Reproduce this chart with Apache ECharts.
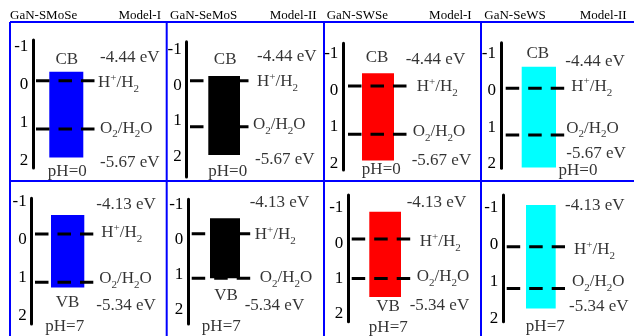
<!DOCTYPE html>
<html><head><meta charset="utf-8">
<script src="https://cdn.jsdelivr.net/npm/echarts@6/dist/echarts.min.js"></script>
<style>html,body{margin:0;padding:0;background:#fff}#c{width:634px;height:336px}</style>
</head><body><div id="c"></div>
<script>
// ---------------- data ----------------
const materials = ['GaN-SMoSe', 'GaN-SeMoS', 'GaN-SWSe', 'GaN-SeWS'];
const models = ['Model-I', 'Model-II', 'Model-I', 'Model-II'];
const pHValues = [0, 7];
const edgeNames = ['CB', 'VB'];
const hEnergyLabels = ['-4.44 eV', '-4.13 eV'];
const oEnergyLabels = ['-5.67 eV', '-5.34 eV'];
const yTickValues = [-1, 0, 1, 2];
// band extents and redox levels (axis units)
const bandTopPH0 = [-0.34, -0.26, -0.46, -0.65];
const bandBottomPH0 = [1.93, 1.96, 1.93, 2.11];
const hLevelPH0 = [-0.10, -0.12, -0.11, -0.06];
const oLevelPH0 = [1.18, 1.17, 1.21, 1.22];
const bandTopPH7 = [-0.64, -0.60, -0.89, -1.08];
const bandBottomPH7 = [1.27, 1.10, 1.52, 1.72];
const hLevelPH7 = [-0.14, -0.16, -0.12, 0.05];
const oLevelPH7 = [1.13, 1.10, 1.00, 1.18];

// ---------------- styles / layout ----------------
const bandColors = ['#0000ff', '#000000', '#ff0000', '#00ffff'];
const FONT = "'Liberation Serif','Times New Roman',serif";
const BORDER = '#0000ff';
const titleLeft = [10, 170, 326.7, 484.3];
const modelRight = [161, 316.7, 471.7, 626.7];
const layout = [
  {ax:33.3, top:40, bottom:168, yMin:-1.18, yMax:2.21, line:[36,95], bar:[49.3,83.3], eTop:[5,-23], hLab:[3,2], oLab:[5,-1], eBot:[5,33], edge:[0.5,-12], ph:[34,4]},
  {ax:186.7, top:41.7, bottom:177, yMin:-1.22, yMax:2.58, line:[190,249], bar:[208.3,240], eTop:[8,-24], hLab:[8,1], oLab:[4,-2], eBot:[6,33], edge:[1,-16], ph:[41,-5]},
  {ax:343.3, top:43.3, bottom:170, yMin:-1.28, yMax:2.19, line:[348,406.7], bar:[362,394], eTop:[-1,-26], hLab:[10,1], oLab:[6,-3], eBot:[5,26], edge:[-1,-16], ph:[38,0]},
  {ax:501, top:42.7, bottom:168.3, yMin:-1.31, yMax:2.13, line:[505.7,564.3], bar:[521.7,556], eTop:[1,-27], hLab:[7,-2], oLab:[2,-7], eBot:[2,18], edge:[-1,-13], ph:[77,2]},
  {ax:31.7, top:198.3, bottom:324, yMin:-1.08, yMax:2.23, line:[35,93.3], bar:[51,84.3], eTop:[3,-29], hLab:[8,-1], oLab:[6,-4], eBot:[3,23], edge:[0,15], ph:[33,3]},
  {ax:188.3, top:199.3, bottom:324, yMin:-1.14, yMax:2.40, line:[191.7,250.7], bar:[210,240], eTop:[-1,-31], hLab:[4,1], oLab:[9,-1], eBot:[-6,27], edge:[1,17], ph:[33,3]},
  {ax:348.3, top:195, bottom:321.7, yMin:-1.36, yMax:2.22, line:[351.7,410.7], bar:[369.3,401], eTop:[-4,-36], hLab:[9,3], oLab:[6,-2], eBot:[-1,27], edge:[3,10], ph:[40,6]},
  {ax:503.3, top:195, bottom:321.7, yMin:-1.35, yMax:2.08, line:[506.7,565], bar:[526,555.7], eTop:[0,-41], hLab:[9,3], oLab:[7,-7], eBot:[4,18], edge:null, ph:[42,5]}
];

const rich = {
  m:   {fontSize:17, fontFamily:FONT, color:'#000', verticalAlign:'middle'},
  sup: {fontSize:11, fontFamily:FONT, color:'#000', verticalAlign:'middle', padding:[0,0,10,0]},
  sub: {fontSize:11, fontFamily:FONT, color:'#000', verticalAlign:'middle', padding:[13,0,0,0]}
};
const H_LABEL = '{m|H}{sup|+}{m|/H}{sub|2}';
const O_LABEL = '{m|O}{sub|2}{m|/H}{sub|2}{m|O}';

function txt(x, y, text, off, align) {
  return {
    value: [x, y],
    label: {
      show: true, position: 'inside', align: align, verticalAlign: 'middle',
      offset: off, formatter: text, color: '#000', fontSize: 17, fontFamily: FONT,
      textBorderWidth: 0, rich: rich
    }
  };
}

const grids = [], xAxes = [], yAxes = [], series = [];
for (let r = 0; r < 2; r++) {
  const tops = r === 0 ? bandTopPH0 : bandTopPH7;
  const bottoms = r === 0 ? bandBottomPH0 : bandBottomPH7;
  const hs = r === 0 ? hLevelPH0 : hLevelPH7;
  const os = r === 0 ? oLevelPH0 : oLevelPH7;
  for (let c = 0; c < 4; c++) {
    const i = r * 4 + c, L = layout[i];
    grids.push({left: L.ax, top: L.top, width: 100, height: L.bottom - L.top, containLabel: false});
    xAxes.push({type: 'value', gridIndex: i, min: 0, max: 100, show: false});
    yAxes.push({
      type: 'value', gridIndex: i, inverse: true, min: L.yMin, max: L.yMax,
      axisLine: {show: true, onZero: false, lineStyle: {color: '#000', width: 3}},
      axisTick: {show: false}, splitLine: {show: false},
      axisLabel: {customValues: yTickValues, color: '#000', fontSize: 17, fontFamily: FONT, margin: 5,
                  formatter: v => String(v)}
    });
    const rel = x => x - L.ax;
    const bx0 = rel(L.bar[0]), bx1 = rel(L.bar[1]);
    const lx0 = rel(L.line[0]), lx1 = rel(L.line[1]);
    const color = bandColors[c];
    series.push({
      type: 'custom', xAxisIndex: i, yAxisIndex: i, z: 2, silent: true, clip: false,
      data: [[bx0, bx1, tops[c], bottoms[c]]],
      renderItem: (params, api) => {
        const p0 = api.coord([api.value(0), api.value(2)]);
        const p1 = api.coord([api.value(1), api.value(3)]);
        return {type: 'rect', shape: {x: p0[0], y: p0[1], width: p1[0] - p0[0], height: p1[1] - p0[1]},
                style: {fill: color}};
      }
    });
    const lineStyle = {color: '#000', width: 3, type: [13.5, 9], cap: 'butt'};
    series.push({type: 'line', xAxisIndex: i, yAxisIndex: i, z: 3, silent: true, symbol: 'none', clip: false,
                 data: [[lx0, hs[c]], [lx1, hs[c]]], lineStyle: lineStyle});
    series.push({type: 'line', xAxisIndex: i, yAxisIndex: i, z: 3, silent: true, symbol: 'none', clip: false,
                 data: [[lx0, os[c]], [lx1, os[c]]], lineStyle: lineStyle});
    const texts = [
      txt(lx1, hs[c], hEnergyLabels[r], L.eTop, 'left'),
      txt(lx1, hs[c], H_LABEL, L.hLab, 'left'),
      txt(lx1, os[c], O_LABEL, L.oLab, 'left'),
      txt(lx1, os[c], oEnergyLabels[r], L.eBot, 'left'),
      txt(0, L.yMax, 'pH=' + pHValues[r], L.ph, 'center')
    ];
    if (L.edge) {
      texts.push(txt((bx0 + bx1) / 2, r === 0 ? tops[c] : bottoms[c], edgeNames[r], L.edge, 'center'));
    }
    series.push({type: 'scatter', xAxisIndex: i, yAxisIndex: i, z: 5, silent: true, clip: false,
                 symbolSize: 1, itemStyle: {color: 'rgba(0,0,0,0)'}, data: texts});
  }
}

const titles = [];
materials.forEach((m, i) => titles.push({text: m, left: titleLeft[i], top: 9, padding: 0,
  textStyle: {fontSize: 13, fontWeight: 'normal', fontFamily: FONT, color: '#000'}}));
models.forEach((m, i) => titles.push({text: m, right: 634 - modelRight[i], top: 9, padding: 0,
  textStyle: {fontSize: 13, fontWeight: 'normal', fontFamily: FONT, color: '#000'}}));

const bstyle = {stroke: BORDER, lineWidth: 2};
const graphic = [
  {type: 'line', shape: {x1: 10, y1: 22, x2: 634, y2: 22}, style: bstyle},
  {type: 'line', shape: {x1: 10, y1: 181, x2: 634, y2: 181}, style: bstyle},
  {type: 'line', shape: {x1: 10, y1: 22, x2: 10, y2: 336}, style: bstyle},
  {type: 'line', shape: {x1: 166.7, y1: 22, x2: 166.7, y2: 336}, style: bstyle},
  {type: 'line', shape: {x1: 324, y1: 22, x2: 324, y2: 336}, style: bstyle},
  {type: 'line', shape: {x1: 481, y1: 22, x2: 481, y2: 336}, style: bstyle}
];

const chart = echarts.init(document.getElementById('c'));
chart.setOption({
  animation: false,
  backgroundColor: '#fff',
  title: titles,
  grid: grids, xAxis: xAxes, yAxis: yAxes, series: series,
  graphic: graphic
});
</script></body></html>
